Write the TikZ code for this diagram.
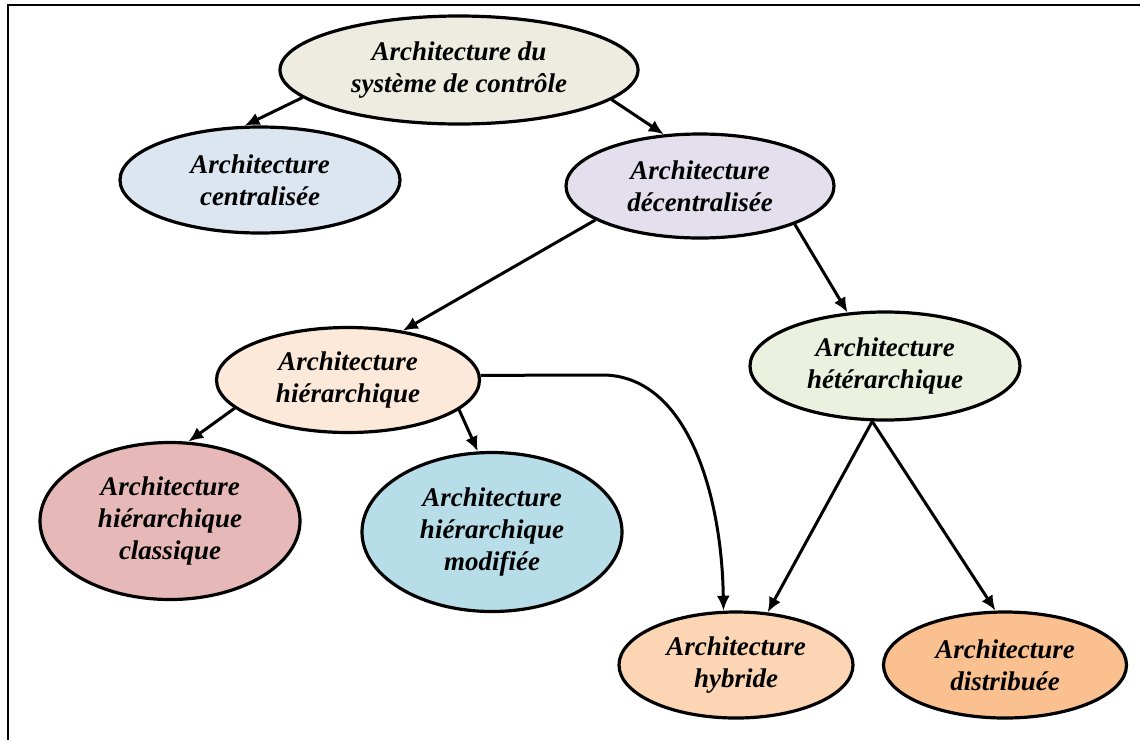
\documentclass[tikz,border=0pt]{standalone}
\usepackage{fontspec}
\setmainfont{Liberation Serif}
\usetikzlibrary{shapes.geometric,arrows.meta}
\definecolor{cTop}{HTML}{EEECE1}
\definecolor{cCen}{HTML}{DCE6F1}
\definecolor{cDec}{HTML}{E4DFEC}
\definecolor{cHie}{HTML}{FDE9D9}
\definecolor{cHet}{HTML}{EBF1DE}
\definecolor{cCla}{HTML}{E6B9B8}
\definecolor{cMod}{HTML}{B7DEE8}
\definecolor{cHyb}{HTML}{FCD5B4}
\definecolor{cDis}{HTML}{FAC090}
\tikzset{
  ell/.style={ellipse, draw=black, line width=3.2pt, inner sep=0pt, align=center,
    font=\fontsize{27}{32}\selectfont\bfseries\itshape},
  arr/.style={line width=3pt, -{Latex[length=15pt,width=13pt]}}
}
\begin{document}
\begin{tikzpicture}[x=1pt,y=-1pt]
\useasboundingbox (0,0) rectangle (1140,740);
\draw[line width=2.6pt] (8,740) -- (8,5) -- (1140,5);

\node[ell, fill=cTop, minimum width=358pt, minimum height=108pt] (top) at (459,70) {Architecture du\\système de contrôle};
\node[ell, fill=cCen, minimum width=280pt, minimum height=106pt] (cen) at (260,180) {Architecture\\centralisée};
\node[ell, fill=cDec, minimum width=268pt, minimum height=104pt] (dec) at (700,186) {Architecture\\décentralisée};
\node[ell, fill=cHie, minimum width=263pt, minimum height=105pt] (hie) at (348,380) {Architecture\\hiérarchique};
\node[ell, fill=cHet, minimum width=270pt, minimum height=108pt] (het) at (885,366) {Architecture\\hétérarchique};
\node[ell, fill=cCla, minimum width=260pt, minimum height=157pt] (cla) at (170,521) {Architecture\\hiérarchique\\classique};
\node[ell, fill=cMod, minimum width=260pt, minimum height=159pt] (mod) at (492,532) {Architecture\\hiérarchique\\modifiée};
\node[ell, fill=cHyb, minimum width=234pt, minimum height=106pt] (hyb) at (736,665) {Architecture\\hybride};
\node[ell, fill=cDis, minimum width=243pt, minimum height=106pt] (dis) at (1005,665) {Architecture\\distribuée};

\coordinate (bend) at (605,375);

\draw[arr] (top.190) -- (cen.106);
\draw[arr] (top.349) -- (dec.125);
\draw[arr] (dec.198) -- (hie.42);
\draw[arr] (dec.338) -- (het.125);
\draw[arr] (hie.194) -- (cla.77);
\draw[arr] (hie.345) -- (mod.100);
\draw[arr] (hie.2) -- (bend) .. controls (690,378) and (722,500) .. (hyb.103);
\draw[arr] (het.257) -- (hyb.59);
\draw[arr] (het.257) -- (dis.100);
\end{tikzpicture}
\end{document}
